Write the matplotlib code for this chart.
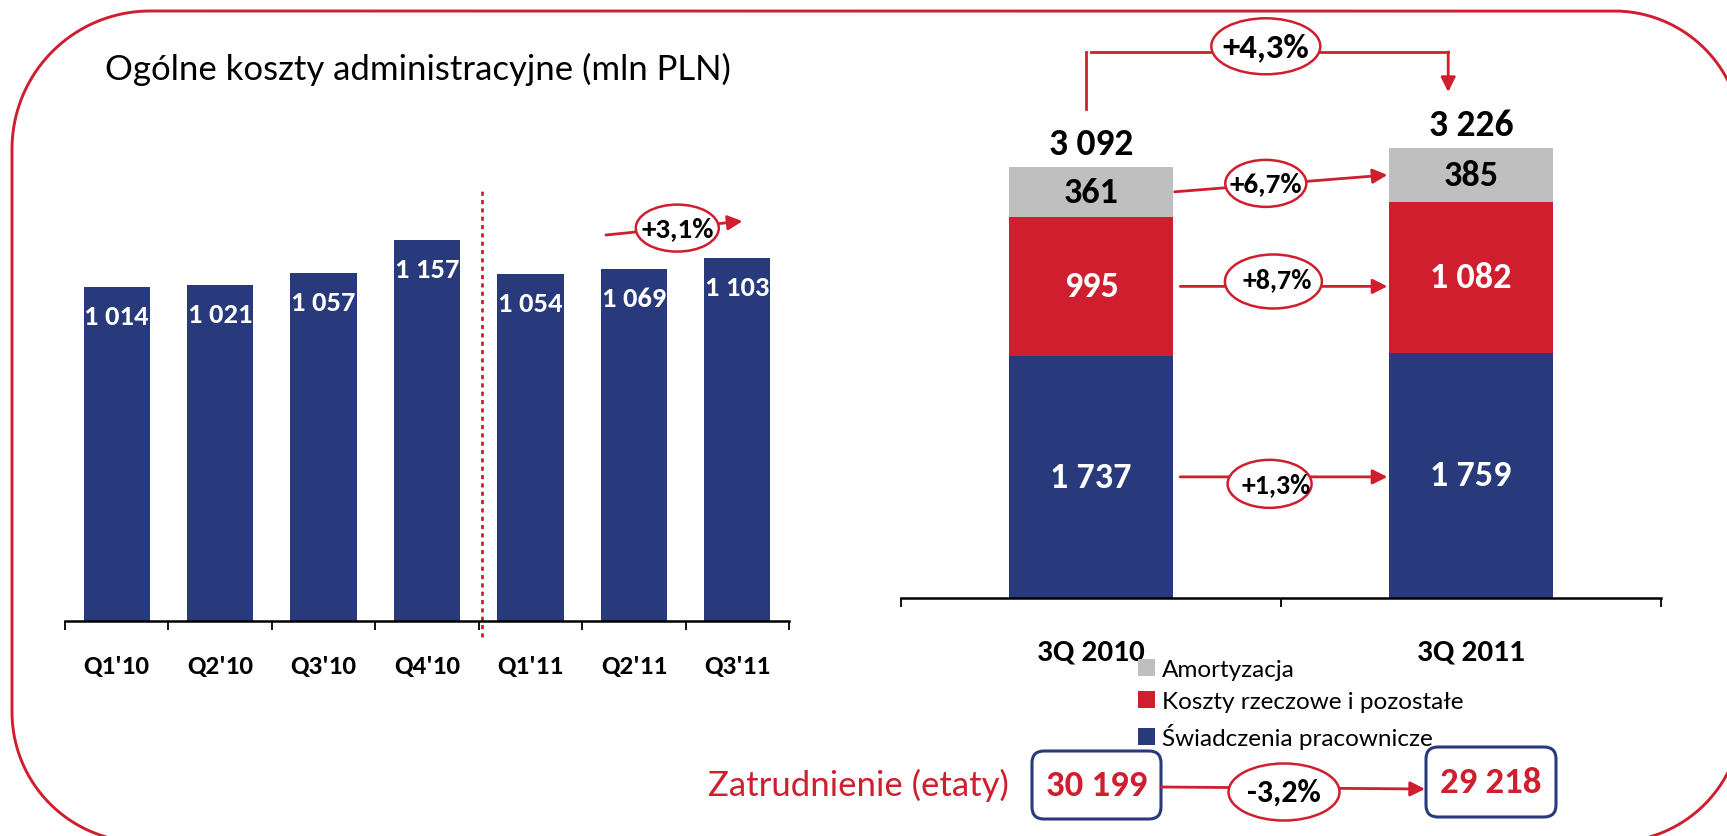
import matplotlib
matplotlib.use('Agg')
import matplotlib.pyplot as plt
import numpy as np
from matplotlib.patches import Ellipse, FancyBboxPatch, PathPatch
from matplotlib.path import Path

plt.rcParams['font.family'] = ['Carlito', 'Open Sans Condensed', 'DejaVu Sans']
ROUND = ['Lato', 'DejaVu Sans']

# left chart: quarterly admin costs
quarters = ["Q1'10", "Q2'10", "Q3'10", "Q4'10", "Q1'11", "Q2'11", "Q3'11"]
quarter_costs = [1014, 1021, 1057, 1157, 1054, 1069, 1103]
quarter_change = '+3,1%'

# right chart: structure 3Q 2010 vs 3Q 2011
periods = ['3Q 2010', '3Q 2011']
staff_costs = [1737, 1759]
material_costs = [995, 1082]
depreciation = [361, 385]
total_costs = [3092, 3226]
total_change = '+4,3%'
staff_change = '+1,3%'
material_change = '+8,7%'
depr_change = '+6,7%'
legend_labels = ['Amortyzacja', 'Koszty rzeczowe i pozostałe', 'Świadczenia pracownicze']

employment = [30199, 29218]
employment_change = '-3,2%'

NAVY = '#283a7b'
RED = '#cf1e2e'
GRAY = '#bfbfbf'
W, H = 1727, 837


def fmt(v):
    return f'{v:,}'.replace(',', ' ')


def badge(ax, x, y, text, w, h, size, dx=0, dy=0):
    # ellipse with w x h pixels around a data point
    p = ax.transData.transform((x, y))
    inv = ax.transData.inverted()
    xa, ya = inv.transform((p[0] - w / 2, p[1] - h / 2))
    xb, yb = inv.transform((p[0] + w / 2, p[1] + h / 2))
    ax.add_patch(Ellipse((x, y), abs(xb - xa), abs(yb - ya), fc='white', ec=RED,
                         lw=1.8, zorder=5, clip_on=False))
    ax.annotate(text, (x, y), xytext=(dx, dy), textcoords='offset points',
                ha='center', va='center', fontsize=size, fontweight='bold',
                zorder=6, annotation_clip=False)


def arrow(ax, start, end):
    ax.annotate('', xy=end, xytext=start,
                arrowprops=dict(arrowstyle='-|>', color=RED, lw=2,
                                mutation_scale=22, shrinkA=0, shrinkB=0),
                annotation_clip=False, zorder=4)


def frame_path(x0, y0, x1, y1, radii):
    # rounded rectangle in pixel coords (y down), radii: tl, tr, br, bl
    rtl, rtr, rbr, rbl = radii
    pts = []
    for cx, cy, r, a0 in [(x0 + rtl, y0 + rtl, rtl, 180), (x1 - rtr, y0 + rtr, rtr, 270),
                          (x1 - rbr, y1 - rbr, rbr, 0), (x0 + rbl, y1 - rbl, rbl, 90)]:
        t = np.radians(np.linspace(a0, a0 + 90, 40))
        pts.extend(zip(cx + r * np.cos(t), cy + r * np.sin(t)))
    pts.append(pts[0])
    return Path(pts)


fig = plt.figure(figsize=(W / 100, H / 100), dpi=100)

bg = fig.add_axes([0, 0, 1, 1])
bg.set_xlim(0, W)
bg.set_ylim(H, 0)
bg.axis('off')
bg.add_patch(PathPatch(frame_path(12, 12, 1742, 843, (138, 128, 128, 130)),
                       fc='none', ec=RED, lw=2.1))
bg.text(105, 69, 'Ogólne koszty administracyjne (mln PLN)', fontsize=25,
        family=ROUND, ha='left', va='center')

# ---- left chart
ax1 = fig.add_axes([65 / W, (H - 622) / H, 724 / W, 522 / H])
ax1.patch.set_visible(False)
x1 = np.arange(len(quarters))
ax1.bar(x1, quarter_costs, width=0.64, color=NAVY)
ax1.set_xlim(-0.5, len(quarters) - 0.5)
ax1.set_ylim(0, 1585)
for s in ['top', 'left', 'right']:
    ax1.spines[s].set_visible(False)
ax1.spines['bottom'].set_linewidth(1.8)
ax1.set_yticks([])
ax1.set_xticks(np.arange(len(quarters) + 1) - 0.5)
ax1.set_xticklabels([])
ax1.set_xticks(x1, minor=True)
ax1.set_xticklabels(quarters, minor=True, fontsize=19.5, fontweight='bold')
ax1.tick_params(axis='x', which='major', length=6.5, width=1.3)
ax1.tick_params(axis='x', which='minor', length=0, pad=23.5)
for xi, v in zip(x1, quarter_costs):
    ax1.annotate(fmt(v), (xi, v), xytext=(0, -21), textcoords='offset points',
                 ha='center', va='center', color='white', fontsize=20.5, fontweight='bold')
ax1.plot([3.53, 3.53], [-50, max(quarter_costs) * 1.14], color=RED, lw=2,
         ls=(0, (1.5, 1.5)), clip_on=False)
last = quarter_costs[-1]
arrow(ax1, (5 - 0.27, last + 69), (6 + 0.05, last + 111))
badge(ax1, 5.42, last + 90, quarter_change, 83, 47, 21)

# ---- right chart
ax2 = fig.add_axes([901 / W, (H - 599) / H, 760 / W, 569 / H])
ax2.patch.set_visible(False)
x2 = np.arange(len(periods))
bw = 0.43
b1 = ax2.bar(x2, staff_costs, bw, color=NAVY)
b2 = ax2.bar(x2, material_costs, bw, bottom=staff_costs, color=RED)
base3 = np.add(staff_costs, material_costs)
b3 = ax2.bar(x2, depreciation, bw, bottom=base3, color=GRAY)
ax2.set_xlim(-0.5, len(periods) - 0.5)
ax2.set_ylim(0, 4080)
for s in ['top', 'left', 'right']:
    ax2.spines[s].set_visible(False)
ax2.spines['bottom'].set_linewidth(1.8)
ax2.set_yticks([])
ax2.set_xticks(np.arange(len(periods) + 1) - 0.5)
ax2.set_xticklabels([])
ax2.set_xticks(x2, minor=True)
ax2.set_xticklabels(periods, minor=True, fontsize=22.5, fontweight='bold')
ax2.tick_params(axis='x', which='major', length=6.5, width=1.3)
ax2.tick_params(axis='x', which='minor', length=0, pad=29)

for i in range(len(periods)):
    segs = [(0, staff_costs[i], 'white'),
            (staff_costs[i], material_costs[i], 'white'),
            (base3[i], depreciation[i], 'black')]
    for bottom, val, col in segs:
        ax2.text(x2[i], bottom + val / 2, fmt(val), ha='center', va='center',
                 color=col, fontsize=26, fontweight='bold')
    ax2.annotate(fmt(total_costs[i]), (x2[i], total_costs[i]), xytext=(0, 17),
                 textcoords='offset points', ha='center', va='center',
                 fontsize=27, fontweight='bold')

left_edge = bw / 2 + 0.01
right_edge = 1 - bw / 2 - 0.005
mid_staff = staff_costs[0] / 2
mid_mat = staff_costs[0] + material_costs[0] / 2
mid_dep = [base3[i] + depreciation[i] / 2 for i in range(2)]
arrow(ax2, (left_edge + 0.01, mid_staff), (right_edge, mid_staff))
badge(ax2, 0.47, mid_staff - 50, staff_change, 84, 48, 20, dx=5, dy=0)
arrow(ax2, (left_edge + 0.01, mid_mat), (right_edge, mid_mat))
badge(ax2, 0.48, mid_mat + 35, material_change, 97, 54, 20, dx=3, dy=2)
arrow(ax2, (left_edge - 0.005, mid_dep[0]), (right_edge, mid_dep[1]))
badge(ax2, 0.46, (mid_dep[0] + mid_dep[1]) / 2, depr_change, 81, 47, 21)

top_y = max(total_costs) + 690
ax2.plot([-0.013, -0.013], [total_costs[0] + 414, top_y], color=RED, lw=2, clip_on=False)
ax2.plot([0.0, 0.94], [top_y, top_y], color=RED, lw=2, clip_on=False)
arrow(ax2, (0.94, top_y), (0.94, total_costs[1] + 402))
badge(ax2, 0.46, top_y + 40, total_change, 109, 56, 25)

fig.legend([b3, b2, b1], legend_labels, loc='upper left',
           bbox_to_anchor=(1138 / W, 1 - 660 / H), frameon=False,
           prop=dict(family=ROUND, size=17.5), handlelength=0.7, handleheight=0.7,
           handletextpad=0.3, labelspacing=0.45, borderpad=0, borderaxespad=0)

# ---- employment row
bg.text(1009, 785, 'Zatrudnienie (etaty)', ha='right', va='center', color=RED,
        fontsize=25, family=ROUND)
boxes = [(1032, 752, 129, 68), (1426, 748, 130, 70)]
for (bx, by, bwid, bht), val in zip(boxes, employment):
    bg.add_patch(FancyBboxPatch((bx, by), bwid, bht, boxstyle='round,pad=0,rounding_size=12',
                                fc='white', ec=NAVY, lw=2.2, zorder=3))
    bg.text(bx + bwid / 2, by + bht / 2, fmt(val), ha='center', va='center', color=RED,
            fontsize=26.5, fontweight='bold', zorder=4)
arrow(bg, (1161, 788), (1425, 790))
badge(bg, 1284, 793, employment_change, 111, 57, 23)

fig.savefig('out.png', dpi=100)
